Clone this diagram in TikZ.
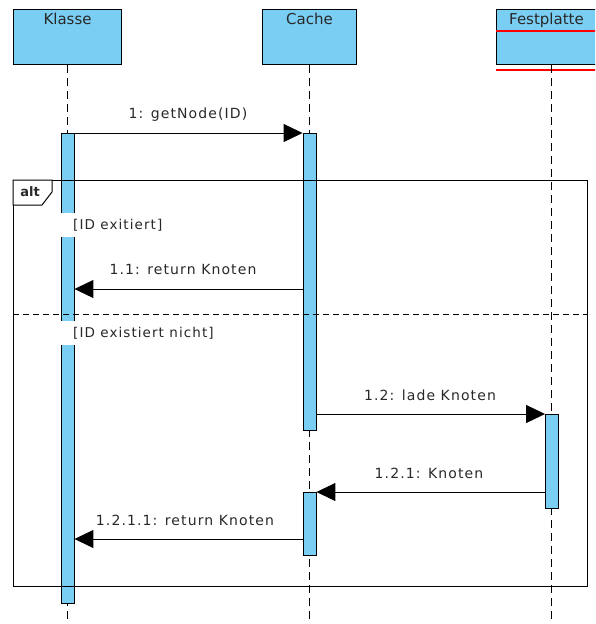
\documentclass[tikz,border=0pt]{standalone}
\usepackage{fontspec}
\setmainfont{DejaVu Sans}
\newfontfamily\lbfont[LetterSpace=8]{DejaVu Sans}
\usetikzlibrary{arrows.meta}
\definecolor{lblue}{RGB}{122,206,244}
\definecolor{txt}{RGB}{40,40,40}
\begin{document}
\begin{tikzpicture}[x=1pt,y=-1pt,
  head/.style={draw=black, fill=lblue, line width=1.1pt, minimum height=55pt, anchor=north west, inner sep=0pt},
  title/.style={anchor=north, inner sep=0pt, text=txt, font=\fontsize{15}{17}\selectfont},
  bar/.style={draw=black, fill=lblue, line width=0.9pt, minimum width=13pt, anchor=north, inner sep=0pt},
  life/.style={dash pattern=on 8pt off 5pt, line width=1pt},
  msg/.style={line width=1pt, -{Triangle[length=19pt,width=18pt]}},
  lbl/.style={inner sep=0pt, text=txt, font=\lbfont\fontsize{14}{16}\selectfont},
  guard/.style={fill=white, inner xsep=0pt, inner ysep=0pt, minimum height=24pt, anchor=west, text=txt, font=\lbfont\fontsize{13.5}{15}\selectfont},
  frame/.style={draw=black, line width=1.1pt, anchor=north west, inner sep=0pt}
]
\useasboundingbox (0,0) rectangle (595,624);
\clip (0,0) rectangle (595,624);
% heads
\node[head, minimum width=108pt] (klasse) at (13,9) {};
\node[head, minimum width=94pt] (cache) at (262,9) {};
\node[head, minimum width=110pt] (platte) at (496,9) {};
\node[title] (klasseT) at ([yshift=-4pt]klasse.north) {Klasse};
\node[title] (cacheT) at ([yshift=-4pt]cache.north) {Cache};
\node[title, anchor=north west] (platteT) at (509,13) {Festplatte};
\draw[red, line width=1.2pt] (platte.west |- 0,31) coordinate (r1a) -- (platte.east |- 0,31) coordinate (r1b);
\draw[red, line width=1.2pt] (platte.west |- 0,70) coordinate (r2a) -- (platte.east |- 0,70) coordinate (r2b);
% lifelines
\coordinate (bottom) at (0,624);
\draw[life] (klasse.south) -- (klasse.south |- bottom);
\draw[life] (cache.south) -- (cache.south |- bottom);
\draw[life] (platte.south) -- (platte.south |- bottom);
% bars
\node[bar, minimum height=470pt] (kbar) at (67.5,133) {};
\node[bar, minimum height=297pt] (cbar1) at (309.5,133) {};
\node[bar, minimum height=63pt] (cbar2) at (309.5,492) {};
\node[bar, minimum height=94pt] (fbar) at (552,414) {};
% guards
\node[guard] (g1) at (60,225) {\hspace*{13pt}[ID exitiert]};
\node[guard] (g2) at (60,333) {\hspace*{13pt}[ID existiert nicht]};
% messages
\draw[msg] (kbar.east |- cbar1.north) -- (cbar1.north west);
\node[lbl] (l1) at (188,115) {1: getNode(ID)};
\draw[msg] (cbar1.west |- 0,289) coordinate (m11s) -- (kbar.east |- m11s);
\node[lbl] (l11) at (183,269) {1.1: return Knoten};
\draw[msg] (cbar1.east |- fbar.north) -- (fbar.north west);
\node[lbl] (l12) at (430,395) {1.2: lade Knoten};
\draw[msg] (fbar.west |- cbar2.north) -- (cbar2.north east);
\node[lbl] (l121) at (429,473) {1.2.1: Knoten};
\draw[msg] (cbar2.west |- 0,539) coordinate (m1211s) -- (kbar.east |- m1211s);
\node[lbl] (l1211) at (185,520) {1.2.1.1: return Knoten};
% alt frame
\node[frame, minimum width=574pt, minimum height=406pt] (alt) at (13,180) {};
\draw[line width=1pt, dash pattern=on 6pt off 4pt] (alt.west |- 0,314) -- (alt.east |- 0,314);
\draw[line width=1pt, fill=white] (alt.north west) -- ++(39,0) -- ++(0,12) -- ++(-10,13) -- ++(-29,0) -- cycle;
\node[inner sep=0pt, font=\bfseries\fontsize{13}{15}\selectfont, text=txt] (altT) at (30,192) {alt};
\end{tikzpicture}
\end{document}
